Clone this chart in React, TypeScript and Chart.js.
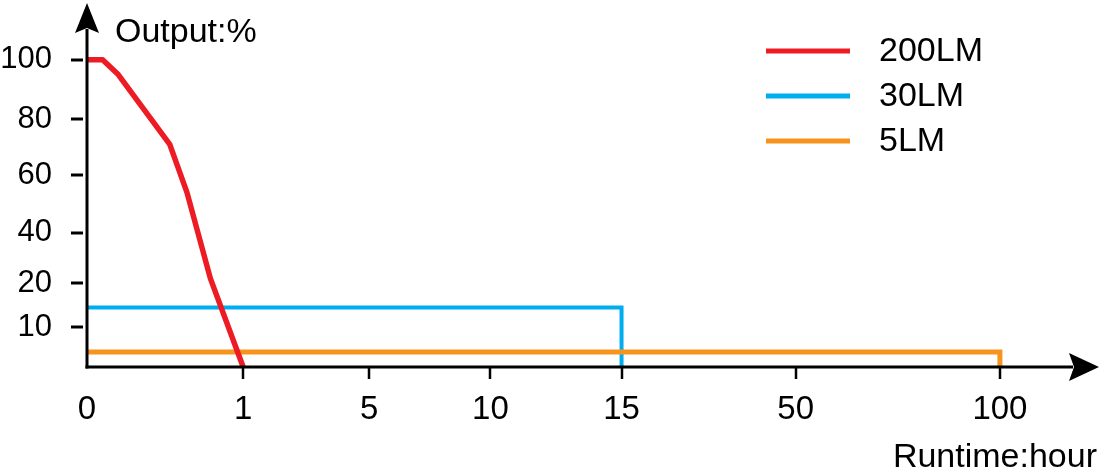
import React, { useEffect, useRef } from 'react';
import { Chart, registerables, LinearScale } from 'chart.js';

// ---- data ----
const SERIES_LABELS = ['200LM', '30LM', '5LM'];
const SERIES_COLORS = ['#ED1C24', '#00AEEF', '#F7941D'];

const RED_HOURS = [0, 0.1, 0.2, 0.53, 0.64, 0.79, 1];
const RED_OUTPUT = [100, 100, 95, 71, 54, 22, 0];

const BLUE_HOURS = [0, 15, 15];
const BLUE_OUTPUT = [14.5, 14.5, 0];

const ORANGE_HOURS = [0, 100, 100];
const ORANGE_OUTPUT = [3.8, 3.8, 0];

const X_TICKS = [0, 1, 5, 10, 15, 50, 100];
const Y_TICKS = [10, 20, 40, 60, 80, 100];

const X_TITLE = 'Runtime:hour';
const Y_TITLE = 'Output:%';

// ---- non-linear (piecewise) axis definitions: value -> fraction of axis length ----
const AXIS_BREAKS: Record<string, { v: number[]; f: number[] }> = {
  x: { v: [0, 1, 5, 10, 15, 50, 100], f: [0, 0.1543, 0.2789, 0.3986, 0.5282, 0.7003, 0.9021] },
  y: { v: [0, 10, 20, 40, 60, 80, 100], f: [0, 0.1093, 0.2295, 0.3689, 0.5273, 0.6803, 0.8443] },
};

function segIndex(arr: number[], val: number) {
  const n = arr.length;
  if (val <= arr[0]) return 0;
  if (val >= arr[n - 1]) return n - 2;
  let i = 0;
  while (i < n - 2 && val > arr[i + 1]) i++;
  return i;
}
function toFraction(b: { v: number[]; f: number[] }, value: number) {
  const i = segIndex(b.v, value);
  return b.f[i] + ((value - b.v[i]) / (b.v[i + 1] - b.v[i])) * (b.f[i + 1] - b.f[i]);
}
function fromFraction(b: { v: number[]; f: number[] }, dec: number) {
  const i = segIndex(b.f, dec);
  return b.v[i] + ((dec - b.f[i]) / (b.f[i + 1] - b.f[i])) * (b.v[i + 1] - b.v[i]);
}

class PiecewiseScale extends LinearScale {
  static id = 'piecewise';
  static defaults = LinearScale.defaults;
  getPixelForValue(value: any) {
    if (value === null || value === undefined || isNaN(value)) return NaN;
    return this.getPixelForDecimal(toFraction(AXIS_BREAKS[(this as any).id], value));
  }
  getValueForPixel(pixel: number) {
    return fromFraction(AXIS_BREAKS[(this as any).id], this.getDecimalForPixel(pixel));
  }
}

Chart.register(...registerables, PiecewiseScale as any);

const FONT_FAMILY = '"Liberation Sans", Arial, Helvetica, sans-serif';

const decorPlugin = {
  id: 'decor',
  afterDraw(chart: any) {
    const { ctx, chartArea: a, scales } = chart;
    ctx.save();
    ctx.strokeStyle = '#000';
    ctx.fillStyle = '#000';
    ctx.lineWidth = 3;
    ctx.lineCap = 'butt';

    // axes lines
    ctx.beginPath();
    ctx.moveTo(a.left, a.bottom + 1.5);
    ctx.lineTo(a.left, a.top + 26);
    ctx.stroke();
    ctx.beginPath();
    ctx.moveTo(a.left - 1.5, a.bottom);
    ctx.lineTo(a.right - 26, a.bottom);
    ctx.stroke();

    // arrow heads
    const L = 30, W = 12, N = 5;
    ctx.beginPath();
    ctx.moveTo(a.left, a.top);
    ctx.lineTo(a.left + W, a.top + L);
    ctx.lineTo(a.left, a.top + L - N);
    ctx.lineTo(a.left - W, a.top + L);
    ctx.closePath();
    ctx.fill();
    ctx.beginPath();
    ctx.moveTo(a.right, a.bottom);
    ctx.lineTo(a.right - L, a.bottom - W - 2);
    ctx.lineTo(a.right - L + N, a.bottom);
    ctx.lineTo(a.right - L, a.bottom + W + 2);
    ctx.closePath();
    ctx.fill();

    // y tick marks (detached dashes)
    scales.y.ticks.forEach((t: any) => {
      const y = Math.round(scales.y.getPixelForValue(t.value));
      ctx.beginPath();
      ctx.moveTo(a.left - 16, y);
      ctx.lineTo(a.left - 4, y);
      ctx.stroke();
    });
    // x tick marks
    ctx.lineWidth = 2.5;
    scales.x.ticks.forEach((t: any) => {
      if (t.value === 0) return;
      const x = Math.round(scales.x.getPixelForValue(t.value));
      ctx.beginPath();
      ctx.moveTo(x, a.bottom);
      ctx.lineTo(x, a.bottom + 12);
      ctx.stroke();
    });

    // axis titles
    ctx.font = `34px ${FONT_FAMILY}`;
    ctx.textBaseline = 'alphabetic';
    ctx.textAlign = 'left';
    ctx.fillText(Y_TITLE, a.left + 28, 42);
    ctx.textAlign = 'right';
    ctx.fillText(X_TITLE, chart.width - 3, 467);

    // legend
    ctx.textAlign = 'left';
    ctx.textBaseline = 'middle';
    chart.data.datasets.forEach((ds: any, i: number) => {
      const y = 51 + i * 45;
      ctx.strokeStyle = ds.borderColor;
      ctx.lineWidth = 5;
      ctx.beginPath();
      ctx.moveTo(766, y);
      ctx.lineTo(850, y);
      ctx.stroke();
      ctx.fillStyle = '#000';
      ctx.fillText(ds.label, 879, y + 1);
    });
    ctx.restore();
  },
};

function pts(xs: number[], ys: number[]) {
  return xs.map((x, i) => ({ x, y: ys[i] }));
}

export default function App() {
  const ref = useRef<HTMLCanvasElement | null>(null);
  useEffect(() => {
    if (!ref.current) return;
    const chart = new Chart(ref.current, {
      type: 'line',
      data: {
        datasets: [
          {
            label: SERIES_LABELS[0],
            data: pts(RED_HOURS, RED_OUTPUT),
            borderColor: SERIES_COLORS[0],
            borderWidth: 5.5,
            borderJoinStyle: 'round',
            order: 0,
          },
          {
            label: SERIES_LABELS[1],
            data: pts(BLUE_HOURS, BLUE_OUTPUT),
            borderColor: SERIES_COLORS[1],
            borderWidth: 4,
            order: 2,
          },
          {
            label: SERIES_LABELS[2],
            data: pts(ORANGE_HOURS, ORANGE_OUTPUT),
            borderColor: SERIES_COLORS[2],
            borderWidth: 5,
            order: 1,
          },
        ],
      } as any,
      options: {
        responsive: false,
        animation: false,
        devicePixelRatio: 1,
        events: [],
        elements: { point: { radius: 0 }, line: { tension: 0, fill: false } },
        layout: { padding: { top: 3, right: 1, bottom: 0, left: 0 } },
        plugins: { legend: { display: false }, tooltip: { enabled: false }, title: { display: false } },
        scales: {
          x: {
            type: 'piecewise',
            min: 0,
            max: 100,
            grid: { display: false, drawTicks: false },
            border: { display: false },
            afterBuildTicks: (s: any) => {
              s.ticks = X_TICKS.map((value) => ({ value }));
            },
            afterFit: (s: any) => {
              s.height = 101;
              s.paddingLeft = 0;
              s.paddingRight = 0;
            },
            ticks: {
              autoSkip: false,
              maxRotation: 0,
              padding: 23,
              color: '#000',
              font: { family: FONT_FAMILY, size: 33 },
              callback: (v: any) => String(v),
            },
          },
          y: {
            type: 'piecewise',
            min: 0,
            max: 100,
            grid: { display: false, drawTicks: false },
            border: { display: false },
            afterBuildTicks: (s: any) => {
              s.ticks = Y_TICKS.map((value) => ({ value }));
            },
            afterFit: (s: any) => {
              s.width = 87;
              s.paddingTop = 0;
              s.paddingBottom = 0;
            },
            ticks: {
              autoSkip: false,
              padding: 35,
              color: '#000',
              font: { family: FONT_FAMILY, size: 31 },
              callback: (v: any) => String(v),
            },
          },
        } as any,
      },
      plugins: [decorPlugin],
    });
    return () => chart.destroy();
  }, []);
  return (
    <div style={{ position: 'absolute', left: 0, top: 0, width: 1100, height: 468, background: '#fff' }}>
      <canvas ref={ref} width={1100} height={468} style={{ display: 'block' }} />
    </div>
  );
}
